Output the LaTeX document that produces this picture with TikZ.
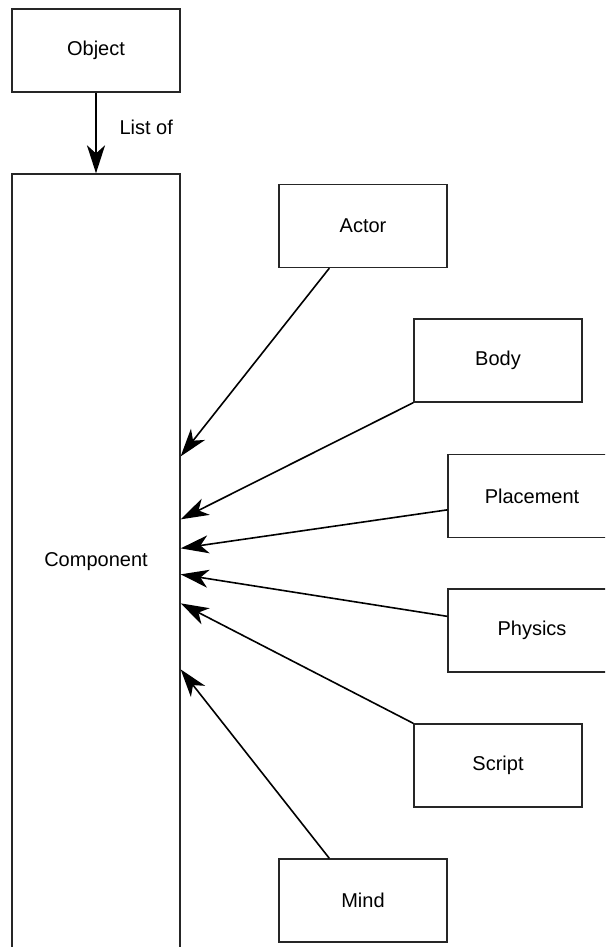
\documentclass[tikz,border=0pt]{standalone}
\usepackage{fontspec}
\setmainfont{Liberation Sans}
\usetikzlibrary{arrows.meta,calc}

\tikzset{
  box/.style={draw=black!85, line width=1.3pt, rectangle, inner sep=0pt,
    minimum width=168pt, minimum height=83pt, font=\fontsize{20}{24}\selectfont},
  link/.style={draw=black, line width=1.6pt,
    -{Stealth[length=28pt,width=18pt,inset=8pt]}},
  listlink/.style={link, line width=2pt},
}

\begin{document}
\begin{tikzpicture}[x=1pt, y=-1pt]
  \useasboundingbox (0,0) rectangle (605,947);
  \clip (0,0) rectangle (605,947);

  % container and the owning object
  \node[box] (object) at (96,50.5) {Object};
  \node[box, minimum height=776pt] (comp) at (96,562) {Component};

  % component kinds
  \node[box] (actor)     at (363,226)   {Actor};
  \node[box] (body)      at (498,360.5) {Body};
  \node[box] (placement) at (532,496)   {Placement};
  \node[box] (physics)   at (532,630.5) {Physics};
  \node[box] (script)    at (498,765.5) {Script};
  \node[box] (mind)      at (363,900.5) {Mind};

  % object holds a list of components
  \draw[listlink] (object.south) -- (comp.north);
  \node[anchor=west, font=\fontsize{20}{24}\selectfont] (listof) at (116,127) {List of};

  % each kind points into the component
  \draw[link] ($(actor.south west)+(51,0)$)      -- ($(comp.north east)+(0,283)$);
  \draw[link] (body.south west)                  -- ($(comp.north east)+(0,346)$);
  \draw[link] ($(placement.north west)+(0,56)$)  -- ($(comp.north east)+(0,375)$);
  \draw[link] ($(physics.north west)+(0,28)$)    -- ($(comp.north east)+(0,401)$);
  \draw[link] (script.north west)                -- ($(comp.north east)+(0,430)$);
  \draw[link] ($(mind.north west)+(51,0)$)       -- ($(comp.north east)+(0,496)$);
\end{tikzpicture}
\end{document}
